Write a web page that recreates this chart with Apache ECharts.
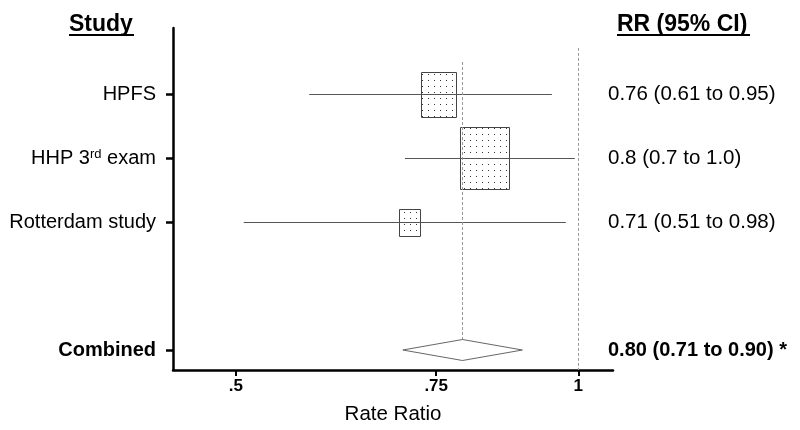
<!DOCTYPE html>
<html>
<head>
<meta charset="utf-8">
<script src="https://cdn.jsdelivr.net/npm/echarts@6/dist/echarts.min.js"></script>
<style>
  html, body { margin: 0; padding: 0; background: #fff; }
  #forest { width: 800px; height: 430px; }
</style>
</head>
<body>
<div id="forest"></div>
<script>
// studies, top to bottom (combined sits two rows below the last one)
const studies = ['HPFS', 'HHP 3rd exam', 'Rotterdam study'];
const studyRows = [1, 2, 3];
const estimate = [0.753, 0.827, 0.710];
const lower = [0.580, 0.704, 0.508];
const upper = [0.948, 0.993, 0.975];
const weight = [30.4, 58.7, 10.9]; // % weight
const rrText = ['0.76 (0.61 to 0.95)', '0.8 (0.7 to 1.0)', '0.71 (0.51 to 0.98)'];

const combinedLabel = 'Combined';
const combinedRow = 5;
const combinedEst = 0.791;
const combinedLow = 0.701;
const combinedHigh = 0.893;
const combinedText = '0.80 (0.71 to 0.90) *';

const nullValue = 1;
const xTicks = [0.5, 0.75, 1];
const xTickLabels = ['.5', '.75', '1'];

const FONT = 'Liberation Sans';
const rows = studyRows.concat([combinedRow]);
const leftLabels = studies.concat([combinedLabel]);
const rightLabels = rrText.concat([combinedText]);

// dotted fill for the study boxes
const dots = document.createElement('canvas');
dots.width = 6;
dots.height = 6;
const g = dots.getContext('2d');
g.fillStyle = '#333';
g.fillRect(2, 2, 1, 1);

function rowIndex (v) {
  for (let i = 0; i < rows.length; i++) {
    if (Math.abs(rows[i] - v) < 1e-6) return i;
  }
  return -1;
}

const yMin = -0.03125;
const yMax = 5.3125;

const chart = echarts.init(document.getElementById('forest'));
chart.setOption({
  animation: false,
  textStyle: { fontFamily: FONT, color: '#000' },
  grid: { left: 173, right: 187, top: 28, bottom: 60 },
  xAxis: {
    type: 'log',
    min: 0.4402,
    max: 1.0728,
    axisLine: { onZero: false, lineStyle: { color: '#000', width: 2.5 } },
    axisTick: { customValues: xTicks, length: 6, lineStyle: { color: '#000', width: 2 } },
    axisLabel: {
      customValues: xTicks,
      margin: 8,
      fontSize: 17,
      fontWeight: 'bold',
      color: '#000',
      formatter: function (v) {
        for (let i = 0; i < xTicks.length; i++) {
          if (Math.abs(xTicks[i] - v) < 1e-6) return xTickLabels[i];
        }
        return '';
      }
    },
    splitLine: { show: false },
    minorTick: { show: false },
    name: 'Rate Ratio',
    nameLocation: 'middle',
    nameGap: 34,
    nameTextStyle: { fontSize: 20.5, color: '#000' }
  },
  yAxis: [
    {
      type: 'value',
      inverse: true,
      min: yMin,
      max: yMax,
      axisLine: { show: true, onZero: false, lineStyle: { color: '#000', width: 2.5 } },
      axisTick: { show: true, customValues: rows, length: 7, lineStyle: { color: '#000', width: 2.5 } },
      axisLabel: {
        customValues: rows,
        margin: 17,
        fontSize: 20,
        color: '#000',
        formatter: function (v) {
          const i = rowIndex(v);
          if (i < 0) return '';
          const s = leftLabels[i];
          if (i === rows.length - 1) return '{b|' + s + '}';
          return s.replace(/(\d)(st|nd|rd|th)\b/, '$1{sup|$2}');
        },
        rich: {
          sup: { fontSize: 13, verticalAlign: 'top', padding: [0, 0, 0, 0] },
          b: { fontSize: 20, fontWeight: 'bold' }
        }
      },
      splitLine: { show: false }
    },
    {
      type: 'value',
      position: 'right',
      inverse: true,
      min: yMin,
      max: yMax,
      axisLine: { show: false },
      axisTick: { show: false },
      axisLabel: {
        customValues: rows,
        margin: -5,
        color: '#000',
        formatter: function (v) {
          const i = rowIndex(v);
          if (i < 0) return '';
          return (i === rows.length - 1 ? '{b|' : '{r|') + rightLabels[i] + '}';
        },
        rich: {
          r: { fontSize: 20.5 },
          b: { fontSize: 20, fontWeight: 'bold' }
        }
      },
      splitLine: { show: false }
    }
  ],
  graphic: [
    { type: 'text', left: 69, top: 13, style: { text: 'Study', font: 'bold 23px "Liberation Sans"', fill: '#000' } },
    { type: 'line', shape: { x1: 69, y1: 35, x2: 134, y2: 35 }, style: { stroke: '#000', lineWidth: 2 } },
    { type: 'text', left: 617, top: 13, style: { text: 'RR (95% CI)', font: 'bold 23px "Liberation Sans"', fill: '#000' } },
    { type: 'line', shape: { x1: 617, y1: 35, x2: 750, y2: 35 }, style: { stroke: '#000', lineWidth: 2 } }
  ],
  series: [
    {
      // study boxes, area ~ weight
      type: 'custom',
      silent: true,
      data: studies.map((s, i) => [estimate[i], studyRows[i], weight[i]]),
      renderItem: function (params, api) {
        const c = api.coord([api.value(0), api.value(1)]);
        const s = Math.sqrt(api.value(2));
        const w = s * 6.4;
        const h = s * 8.1;
        return {
          type: 'rect',
          shape: { x: Math.round(c[0] - w / 2) + 0.5, y: Math.round(c[1] - h / 2) + 0.5, width: Math.round(w), height: Math.round(h) },
          style: { fill: { image: dots, repeat: 'repeat' }, stroke: '#444', lineWidth: 1 }
        };
      },
      z: 3
    },
    {
      // confidence intervals
      type: 'custom',
      silent: true,
      data: studies.map((s, i) => [lower[i], upper[i], studyRows[i]]),
      renderItem: function (params, api) {
        const a = api.coord([api.value(0), api.value(2)]);
        const b = api.coord([api.value(1), api.value(2)]);
        const y = Math.round(a[1]) + 0.5;
        return {
          type: 'line',
          shape: { x1: a[0], y1: y, x2: b[0], y2: y },
          style: { stroke: '#555', lineWidth: 1 }
        };
      },
      markLine: {
        silent: true,
        symbol: 'none',
        label: { show: false },
        lineStyle: { color: '#999', width: 1, type: [3, 2] },
        data: [
          [{ coord: [nullValue, 0.28] }, { coord: [nullValue, yMax] }],
          [{ coord: [combinedEst, 0.5] }, { coord: [combinedEst, combinedRow] }]
        ]
      },
      z: 4
    },
    {
      // pooled estimate diamond
      type: 'custom',
      silent: true,
      data: [[combinedEst, combinedLow, combinedHigh, combinedRow]],
      renderItem: function (params, api) {
        const row = api.value(3);
        const l = api.coord([api.value(1), row]);
        const m = api.coord([api.value(0), row]);
        const r = api.coord([api.value(2), row]);
        const hh = 10.5;
        return {
          type: 'polygon',
          shape: { points: [[l[0], m[1]], [m[0], m[1] - hh], [r[0], m[1]], [m[0], m[1] + hh]] },
          style: { fill: '#fff', stroke: '#666', lineWidth: 1 }
        };
      },
      z: 5
    }
  ]
});
</script>
</body>
</html>
